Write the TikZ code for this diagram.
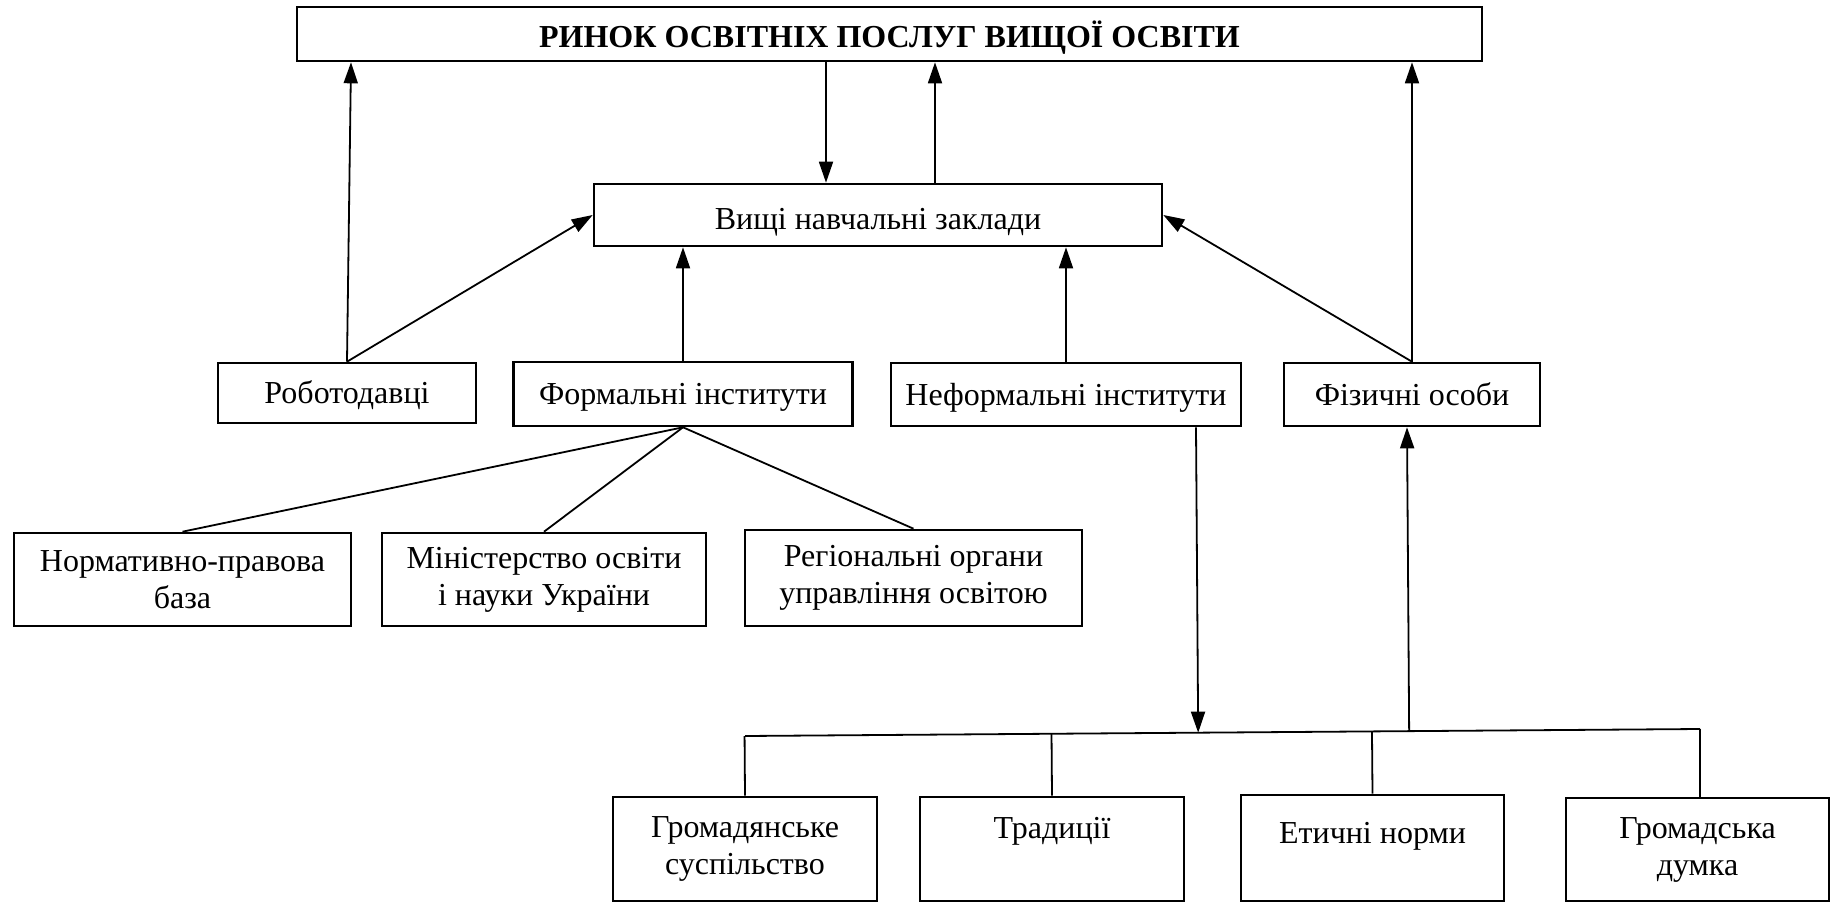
\documentclass[tikz,border=0pt]{standalone}
\usepackage{fontspec}
\setmainfont{Liberation Serif}
\usetikzlibrary{arrows.meta,calc}
\begin{document}
\begin{tikzpicture}[x=1pt,y=-1pt,
  box/.style={draw, line width=2.6pt, inner sep=0pt, align=center, font=\fontsize{32}{37}\selectfont},
  one/.style={text height=21pt, text depth=0pt},
  conn/.style={line width=1.8pt},
  arr/.style={conn, -{Triangle[length=21pt,width=14pt]}}]
\useasboundingbox (0,0) rectangle (1832,902);

\node[box, minimum width=1185pt, minimum height=54pt, text height=26pt, text depth=0pt, font=\fontsize{32}{38}\selectfont\bfseries] (title) at (889.5,34) {РИНОК ОСВІТНІХ ПОСЛУГ ВИЩОЇ ОСВІТИ};
\node[box, one, text height=28pt, minimum width=568pt, minimum height=62pt] (vnz) at (878,215) {Вищі навчальні заклади};
\node[box, one, minimum width=258pt, minimum height=60pt] (rob) at (347,393) {Роботодавці};
\node[box, one, minimum width=339pt, minimum height=64pt] (form) at (683,394) {Формальні інститути};
\node[box, one, minimum width=350pt, minimum height=63pt] (neform) at (1066,394.5) {Неформальні інститути};
\node[box, one, minimum width=256pt, minimum height=63pt] (phys) at (1412,394.5) {Фізичні особи};
\node[box, minimum width=337pt, minimum height=93pt] (norm) at (182.5,579.5) {Нормативно-правова\\база};
\node[box, minimum width=324pt, minimum height=93pt] (mon) at (544,579.5) {Міністерство освіти\\і науки України};
\node[box, minimum width=337pt, minimum height=96pt] (reg) at (913.5,578) {Регіональні органи\\управління освітою};
\node[box, minimum width=264pt, minimum height=104pt] (gs) at (745,849) {Громадянське\\суспільство};
\node[box, one, text depth=42pt, minimum width=264pt, minimum height=104pt] (trad) at (1052,849) {Традиції};
\node[box, one, text depth=30pt, minimum width=263pt, minimum height=106pt] (eth) at (1372.5,848) {Етичні норми};
\node[box, minimum width=263pt, minimum height=103pt] (gd) at (1697.5,849.5) {Громадська\\думка};

% upper connectors
\coordinate (xr1) at (351,0);
\draw[arr] (rob.north) -- (title.south -| xr1);
\draw[arr] (rob.north) -- (vnz.west);
\coordinate (xd) at (826,0);
\draw[arr] (title.south -| xd) -- (vnz.north -| xd);
\coordinate (xu) at (935,0);
\draw[arr] (vnz.north -| xu) -- (title.south -| xu);
\draw[arr] (form.north) -- (form.north |- vnz.south);
\draw[arr] (neform.north) -- (neform.north |- vnz.south);
\draw[arr] (phys.north) -- (vnz.east);
\draw[arr] (phys.north) -- (phys.north |- title.south);

% formal institutions
\draw[conn] (form.south) -- (norm.north);
\draw[conn] (form.south) -- (mon.north);
\draw[conn] (form.south) -- (reg.north);

% informal bus
\coordinate (hL) at (745,736);
\coordinate (hR) at (1700,729);
\draw[conn] (hL) -- (hR);
\draw[conn] (gs.north) -- ($(hL)!(gs.north)!(hR)$);
\draw[conn] (trad.north) -- ($(hL)!(trad.north)!(hR)$);
\draw[conn] (eth.north) -- ($(hL)!(eth.north)!(hR)$);
\draw[conn] (gd.north -| hR) -- (hR);
\coordinate (xdn) at (1196,0);
\draw[arr] (neform.south -| xdn) -- ($(hL)!(neform.south -| xdn)!(hR)$);
\coordinate (xup) at (1407,0);
\draw[arr] ($(hL)!(phys.south -| xup)!(hR)$) -- (phys.south -| xup);
\end{tikzpicture}
\end{document}
